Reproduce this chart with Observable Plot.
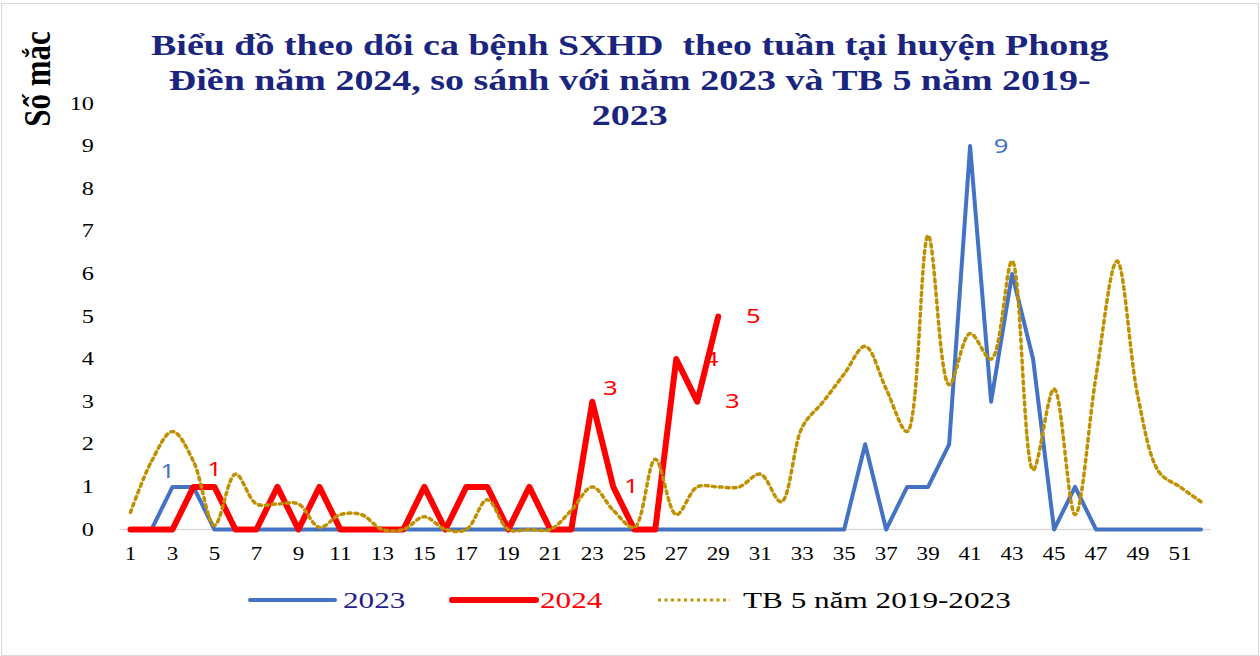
<!DOCTYPE html>
<html><head><meta charset="utf-8">
<script src="https://cdn.jsdelivr.net/npm/d3@7"></script>
<script src="https://cdn.jsdelivr.net/npm/@observablehq/plot@0.6"></script>
<style>
html,body{margin:0;padding:0;background:#fff;}
#wrap{position:relative;width:1260px;height:656px;overflow:hidden;font-family:"Liberation Serif","Times New Roman",serif;background:#fff;}
#frame{position:absolute;left:1px;top:3px;width:1258px;height:653px;border:1px solid #d9d9d9;box-sizing:border-box;}
#chart{position:absolute;left:0;top:0;}
#title{position:absolute;left:0;width:1260px;top:27px;text-align:center;font-weight:bold;font-size:30px;line-height:35px;color:#1a2580;transform:scaleX(1.265);transform-origin:631px 0;white-space:pre;}
#ylab{position:absolute;left:37px;top:79px;transform:translate(-50%,-50%) rotate(-90deg) scaleY(1.25);font-weight:bold;font-size:31px;white-space:nowrap;color:#000;}
.lg{position:absolute;top:600px;transform:translateY(-50%) scaleX(1.3);transform-origin:0 50%;font-size:24px;white-space:nowrap;}
</style>
</head><body>
<div id="wrap">
  <div id="frame"></div>
  <div id="chart"></div>
  <div id="title"></div>
  <div id="ylab"></div>
  <svg id="lgsw" width="1260" height="656" style="position:absolute;left:0;top:0;pointer-events:none"></svg>
</div>
<script>
// ---- data ----
const weeks = [1,2,3,4,5,6,7,8,9,10,11,12,13,14,15,16,17,18,19,20,21,22,23,24,25,26,27,28,29,30,31,32,33,34,35,36,37,38,39,40,41,42,43,44,45,46,47,48,49,50,51,52];
const cases2023 = [0,0,1,1,0,0,0,0,0,0,0,0,0,0,0,0,0,0,0,0,0,0,0,0,0,0,0,0,0,0,0,0,0,0,0,2,0,1,1,2,9,3,6,4,0,1,0,0,0,0,0,0];
const cases2024 = [0,0,0,1,1,0,0,1,0,1,0,0,0,0,1,0,1,1,0,1,0,0,3,1,0,0,4,3,5];
const avg5y = [0.4,1.6,2.3,1.6,0.1,1.3,0.6,0.6,0.6,0.05,0.35,0.35,0,0,0.3,0,0,0.7,0,0,0,0.45,1.0,0.45,0.05,1.65,0.35,1.0,1.0,1.0,1.3,0.65,2.4,3.0,3.65,4.3,3.3,2.3,6.9,3.4,4.6,4.0,6.3,1.4,3.3,0.35,3.6,6.3,3.1,1.35,1.0,0.65];
const xTicks = [1,3,5,7,9,11,13,15,17,19,21,23,25,27,29,31,33,35,37,39,41,43,45,47,49,51];
const yTicks = [0,1,2,3,4,5,6,7,8,9,10];
const seriesNames = ["2023","2024","TB 5 năm 2019-2023"];
const titleLines = ["Biểu đồ theo dõi ca bệnh SXHD  theo tuần tại huyện Phong","Điền năm 2024, so sánh với năm 2023 và TB 5 năm 2019-","2023"];
const yTitle = "Số mắc";
const labelWeeks2023 = [3,41];
const labelWeeks2024 = [5,23,24,27,28,29];

// ---- build ----
const C2023 = "#4472C4", C2024 = "#FF0000", CAVG = "#BF9000";
const d2023 = weeks.map((w,i)=>({week:w,value:cases2023[i]}));
const d2024 = cases2024.map((v,i)=>({week:weeks[i],value:v}));
const dAvg = weeks.map((w,i)=>({week:w,value:avg5y[i]}));
const lab = (data, allowed, ws) => data.filter(d=>ws.includes(d.week) && allowed.includes(d.week));
const lblFont = {fontFamily:"'Noto Sans','DejaVu Sans',sans-serif", fontSize:20};
const txt = d=>String(d.value);

const chart = Plot.plot({
  width:1260, height:656,
  marginLeft:119.5, marginRight:49, marginTop:103, marginBottom:127,
  x:{type:"linear", domain:[0.5,52.5]},
  y:{domain:[0,10]},
  style:{fontFamily:"'Liberation Serif','Times New Roman',serif", background:"transparent", color:"#000"},
  marks:[
    Plot.ruleY([0],{stroke:"#d9d9d9",strokeWidth:1.5}),
    Plot.axisY({ticks:yTicks, tickSize:0, tickPadding:26, fontSize:19, label:null, tickFormat:d=>String(d)}),
    Plot.axisX({ticks:xTicks, tickSize:0, tickPadding:18, fontSize:18, label:null, tickFormat:d=>String(d)}),
    Plot.line(d2023,{x:"week",y:"value",stroke:C2023,strokeWidth:4,strokeLinejoin:"round",strokeLinecap:"round"}),
    Plot.line(d2024,{x:"week",y:"value",stroke:C2024,strokeWidth:6,strokeLinejoin:"round",strokeLinecap:"round"}),
    Plot.line(dAvg,{x:"week",y:"value",stroke:CAVG,strokeWidth:3.5,strokeDasharray:"3,4",curve:"catmull-rom"}),
    Plot.text(lab(d2023,labelWeeks2023,[3]),{x:"week",y:"value",text:txt,fill:C2023,dx:-5,dy:-15,...lblFont}),
    Plot.text(lab(d2023,labelWeeks2023,[41]),{x:"week",y:"value",text:txt,fill:C2023,dx:31,dy:0,...lblFont}),
    Plot.text(lab(d2024,labelWeeks2024,[5]),{x:"week",y:"value",text:txt,fill:C2024,dx:0,dy:-17,...lblFont}),
    Plot.text(lab(d2024,labelWeeks2024,[23]),{x:"week",y:"value",text:txt,fill:C2024,dx:18,dy:-13,...lblFont}),
    Plot.text(lab(d2024,labelWeeks2024,[24]),{x:"week",y:"value",text:txt,fill:C2024,dx:18,dy:0,...lblFont}),
    Plot.text(lab(d2024,labelWeeks2024,[27,28,29]),{x:"week",y:"value",text:txt,fill:C2024,dx:35,dy:0,...lblFont})
  ]
});
// widen glyphs horizontally, as in the reference image
d3.select(chart).selectAll("text").each(function(){
  const x = parseFloat(this.getAttribute("x")) || 0;
  const t = this.getAttribute("transform") || "";
  this.setAttribute("transform", `${t} translate(${x},0) scale(1.28,1) translate(${-x},0)`.trim());
});
document.getElementById("chart").appendChild(chart);
document.getElementById("title").textContent = titleLines.join("\n");
document.getElementById("ylab").textContent = yTitle;

// ---- legend ----
const wrap = document.getElementById("wrap");
const sw = d3.select("#lgsw");
const legendItems = [
  {name:seriesNames[0], color:C2023, text:"#241f8c", x1:250, x2:335, w:4, dash:null, tx:343},
  {name:seriesNames[1], color:C2024, text:"#FF0000", x1:452, x2:536, w:6, dash:null, tx:540},
  {name:seriesNames[2], color:CAVG, text:"#000", x1:658, x2:730, w:3, dash:"3,3.5", tx:743}
];
legendItems.forEach(it=>{
  const l = sw.append("line").attr("x1",it.x1).attr("x2",it.x2).attr("y1",600).attr("y2",600)
    .attr("stroke",it.color).attr("stroke-width",it.w);
  if(it.dash) l.attr("stroke-dasharray",it.dash); else l.attr("stroke-linecap","round");
  const s = document.createElement("div");
  s.className="lg"; s.style.left=it.tx+"px"; s.style.color=it.text; s.textContent=it.name;
  wrap.appendChild(s);
});
</script>
</body></html>
